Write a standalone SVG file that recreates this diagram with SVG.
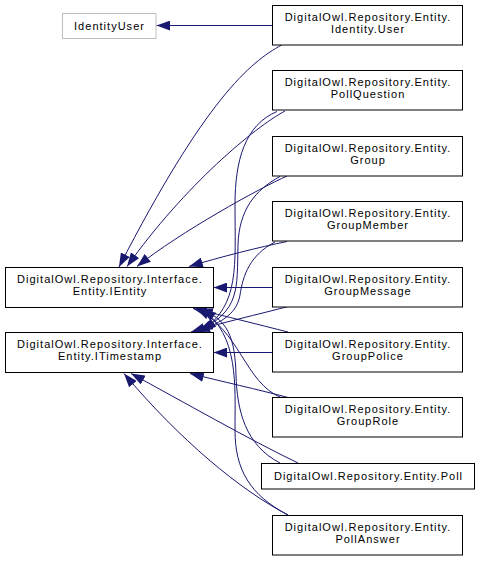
<svg xmlns="http://www.w3.org/2000/svg" width="480" height="561" viewBox="0 0 480 561">
<defs>
<style>
.n rect{fill:#fff;stroke:#000;stroke-width:1}
.ext rect{stroke:#bfbfbf}
text{font-family:"Liberation Sans",Arial,sans-serif;font-size:11px;letter-spacing:1.02px;fill:#000;text-anchor:middle}
.e path{fill:none;stroke:#191970;stroke-width:1;marker-end:url(#ah)}
</style>
<marker id="ah" markerUnits="userSpaceOnUse" markerWidth="14" markerHeight="10" viewBox="0 0 13 9.4" refX="13" refY="4.7" orient="auto">
<path d="M0,0 L13,4.7 L0,9.4 z" fill="#191970" stroke="none"/>
</marker>
</defs>
<rect width="480" height="561" fill="#fff"/>
<g class="e" id="edges">
<path d="M272,25.5 L156.5,25.5"/>
<path d="M281.7,45 C250,62 205,100 119,267"/>
<path d="M285,111 C255,127 185,185 127,266.5"/>
<path d="M287,176 C260,188 180,232 137,266.5"/>
<path d="M287,241.5 C260,247 220,257 189,266.5"/>
<path d="M272,287.5 L213.5,287.5"/>
<path d="M288,332 C260,325 225,316 193,308.5"/>
<path d="M281,397.5 C245,383 240,330 196,308.5"/>
<path d="M280,463 C245,445 237,410 236,375 C235,338 228,318 199,309"/>
<path d="M288,515 C250,495 235,470 235,430 C235,385 239,335 202,309"/>
<path d="M277,111.5 C245,125 235,160 235,205 C235,265 240,305 202,330.5"/>
<path d="M280,176.5 C255,190 239,210 238,245 C237,290 240,310 199,331"/>
<path d="M275,242 C250,255 243,275 240,295 C237,312 225,322 196,331.5"/>
<path d="M288,306.5 C260,314 220,323 191,332"/>
<path d="M272,352.5 L213.5,352.5"/>
<path d="M288,397.5 C260,390 220,381 190,373.5"/>
<path d="M298,463 C250,440 180,400 131,373.5"/>
<path d="M288,515 C240,490 180,440 124,373.5"/>
</g>
<g id="IdentityUser" class="n ext"><rect x="62.5" y="13.5" width="93.5" height="25"/><text x="109.5" y="30">IdentityUser</text></g>
<g id="IEntity" class="n"><rect x="5.5" y="267.5" width="208" height="40"/><text x="110" y="282.5">DigitalOwl.Repository.Interface.</text><text x="110" y="295">Entity.IEntity</text></g>
<g id="ITimestamp" class="n"><rect x="5.5" y="332.5" width="208" height="40"/><text x="110" y="347.5">DigitalOwl.Repository.Interface.</text><text x="110" y="360">Entity.ITimestamp</text></g>
<g id="User" class="n"><rect x="272.5" y="5.5" width="190" height="39.5"/><text x="368" y="20.5">DigitalOwl.Repository.Entity.</text><text x="368" y="33">Identity.User</text></g>
<g id="PollQuestion" class="n"><rect x="272.5" y="70.5" width="190" height="39.5"/><text x="368" y="85.5">DigitalOwl.Repository.Entity.</text><text x="368" y="98">PollQuestion</text></g>
<g id="Group" class="n"><rect x="272.5" y="136.5" width="190" height="39.5"/><text x="368" y="151.5">DigitalOwl.Repository.Entity.</text><text x="368" y="164">Group</text></g>
<g id="GroupMember" class="n"><rect x="272.5" y="201.5" width="190" height="39.5"/><text x="368" y="216.5">DigitalOwl.Repository.Entity.</text><text x="368" y="229">GroupMember</text></g>
<g id="GroupMessage" class="n"><rect x="272.5" y="267.5" width="190" height="39.5"/><text x="368" y="282.5">DigitalOwl.Repository.Entity.</text><text x="368" y="295">GroupMessage</text></g>
<g id="GroupPolice" class="n"><rect x="272.5" y="332.5" width="190" height="39.5"/><text x="368" y="347.5">DigitalOwl.Repository.Entity.</text><text x="368" y="360">GroupPolice</text></g>
<g id="GroupRole" class="n"><rect x="272.5" y="397.5" width="190" height="39.5"/><text x="368" y="412.5">DigitalOwl.Repository.Entity.</text><text x="368" y="425">GroupRole</text></g>
<g id="Poll" class="n"><rect x="261.5" y="463.5" width="213" height="25.5"/><text x="368.5" y="480">DigitalOwl.Repository.Entity.Poll</text></g>
<g id="PollAnswer" class="n"><rect x="272.5" y="515.5" width="190" height="39.5"/><text x="368" y="530.5">DigitalOwl.Repository.Entity.</text><text x="368" y="543">PollAnswer</text></g>
</svg>
